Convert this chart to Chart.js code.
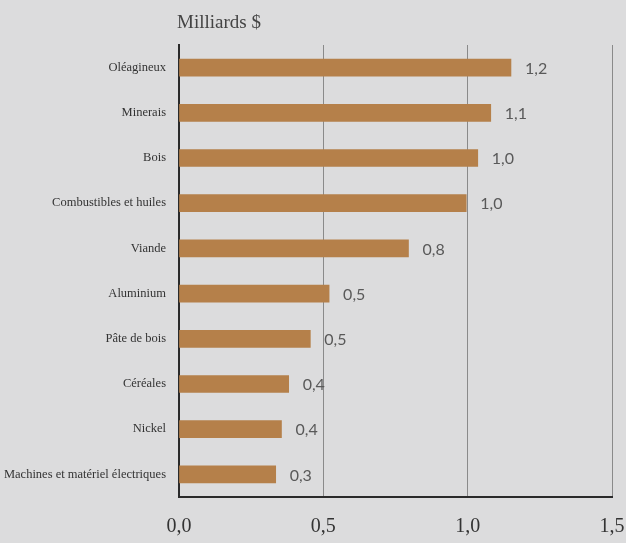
<!DOCTYPE html>
<html lang="fr">
  <head>
    <meta charset="UTF-8" />
    <script src="https://cdn.jsdelivr.net/npm/chart.js@4"></script>
    <title>Milliards $</title>
    <style>
      body { margin: 0; background: #dcdcdd; }
      #wrap { width: 626px; height: 543px; position: relative; }
    </style>
  </head>
  <body>
    <div id="wrap"><canvas id="myChart"></canvas></div>
    <script>
      const categories = [
        "Oléagineux", "Minerais", "Bois", "Combustibles et huiles", "Viande",
        "Aluminium", "Pâte de bois", "Céréales", "Nickel", "Machines et matériel électriques"
      ];
      const values = [1.15, 1.08, 1.035, 0.995, 0.795, 0.52, 0.455, 0.38, 0.355, 0.335];
      const valueLabels = ["1,2", "1,1", "1,0", "1,0", "0,8", "0,5", "0,5", "0,4", "0,4", "0,3"];
      const xTicks = [0, 0.5, 1.0, 1.5];

      // draws the unit title and the value next to each bar
      const textPlugin = {
        id: "texts",
        afterDatasetsDraw(chart) {
          const ctx = chart.ctx;
          ctx.save();
          ctx.fillStyle = "#444";
          ctx.font = "19px 'Liberation Serif'";
          ctx.textBaseline = "alphabetic";
          ctx.textAlign = "left";
          ctx.fillText("Milliards $", chart.chartArea.left - 2, 28);

          ctx.font = "16px Lato";
          ctx.fillStyle = "#595959";
          ctx.textBaseline = "middle";
          chart.getDatasetMeta(0).data.forEach((bar, i) => {
            ctx.fillText(valueLabels[i], bar.x + 14, bar.y + 1);
          });
          ctx.restore();
        }
      };

      const ctx = document.getElementById("myChart").getContext("2d");
      new Chart(ctx, {
        type: "bar",
        data: {
          labels: categories,
          datasets: [{
            data: values,
            backgroundColor: "#b5804a",
            barThickness: 17
          }]
        },
        options: {
          indexAxis: "y",
          responsive: true,
          maintainAspectRatio: false,
          animation: false,
          layout: { padding: { top: 45, right: 0 } },
          plugins: { legend: { display: false }, tooltip: { enabled: false } },
          scales: {
            x: {
              min: 0,
              max: 1.5,
              afterBuildTicks: (s) => { s.ticks = xTicks.map(v => ({ value: v })); },
              afterFit: (s) => { s.height = 46; s.paddingRight = 14; s.paddingLeft = 0; },
              grid: { color: "#8a8a8a", lineWidth: 1, drawTicks: false },
              border: { color: "#2a2a2a", width: 2 },
              ticks: {
                padding: 18,
                color: "#333",
                font: { family: "Liberation Serif", size: 20 },
                callback: (v) => Number(v).toFixed(1).replace(".", ",")
              }
            },
            y: {
              afterFit: (s) => { s.width = 179; },
              grid: { display: false },
              border: { color: "#2a2a2a", width: 2 },
              ticks: {
                padding: 5,
                color: "#333",
                font: { family: "Liberation Serif", size: 12.5 }
              }
            }
          }
        },
        plugins: [textPlugin]
      });
    </script>
  </body>
</html>
